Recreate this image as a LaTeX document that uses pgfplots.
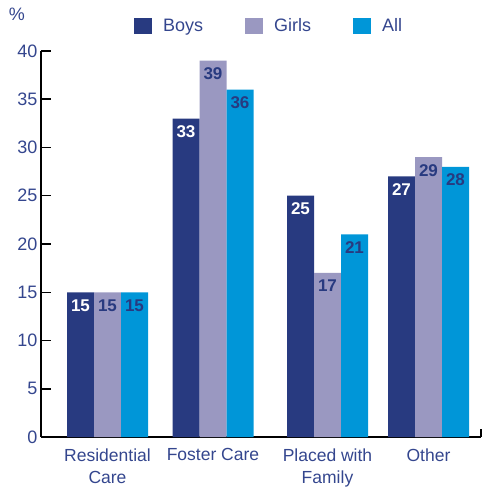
\documentclass[border=0pt]{standalone}
\usepackage{pgfplots}
\pgfplotsset{compat=1.18}
\usepackage{fontspec}
\setmainfont{Liberation Sans}
\definecolor{boys}{HTML}{283A80}
\definecolor{girls}{HTML}{9A98C1}
\definecolor{alls}{HTML}{0096D8}
\definecolor{txt}{HTML}{34468E}
\begin{document}
\begin{tikzpicture}[font=\fontsize{18bp}{21bp}\selectfont]
\path[use as bounding box] (-41bp,-52bp) rectangle (442bp,437bp);
\begin{axis}[
  scale only axis, width=440bp, height=386bp,
  xmin=41, xmax=481, ymin=0, ymax=40, clip=false,
  /pgf/number format/assume math mode=true,
  axis x line*=bottom, axis y line*=left,
  axis line style={black, line width=1.5bp, -},
  ytick={0,5,...,40}, tick align=inside, major tick length=10bp,
  y tick style={black, line width=1.5bp},
  yticklabel style={text=txt, font=\fontsize{18bp}{21bp}\selectfont},
  xtick={107.5,213,327.5,428.5},
  xticklabels={{Residential\\Care},{Foster Care},{Placed with\\Family},{Other}},
  x tick style={draw=none},
  xticklabel style={align=center, text=txt, font=\fontsize{17.5bp}{22bp}\selectfont, yshift=2bp},
  ybar, bar width=27, bar shift=0pt,
  nodes near coords,
  every node near coord/.append style={anchor=north, font=\bfseries\fontsize{17bp}{20bp}\selectfont, inner sep=3bp, yshift=-4bp},
  legend columns=3,
  legend style={draw=none, fill=none, at={(0.2114,1.0648)}, anchor=west, inner sep=0pt,
    text=txt, font=\fontsize{18bp}{21bp}\selectfont, nodes={inner sep=0pt},
    /tikz/every odd column/.append style={column sep=11bp},
    /tikz/every even column/.append style={column sep=42bp}},
  legend image code/.code={\fill[#1,draw=none] (0bp,-8bp) rectangle (18bp,8bp);},
]
\addplot[fill=boys, draw=none, every node near coord/.append style={text=white}]
  coordinates {(80.5,15) (186,33) (300.5,25) (401.5,27)};
\addplot[fill=girls, draw=none, every node near coord/.append style={text=boys}]
  coordinates {(107.5,15) (213,39) (327.5,17) (428.5,29)};
\addplot[fill=alls, draw=none, every node near coord/.append style={text=boys}]
  coordinates {(134.5,15) (240,36) (354.5,21) (455.5,28)};
\legend{Boys,Girls,All}
\node[text=txt] at (axis cs:17,43.8) {\%};
\draw[black, line width=1.5bp] (axis cs:481,0) -- ([yshift=8bp]axis cs:481,0);
\end{axis}
\end{tikzpicture}
\end{document}
